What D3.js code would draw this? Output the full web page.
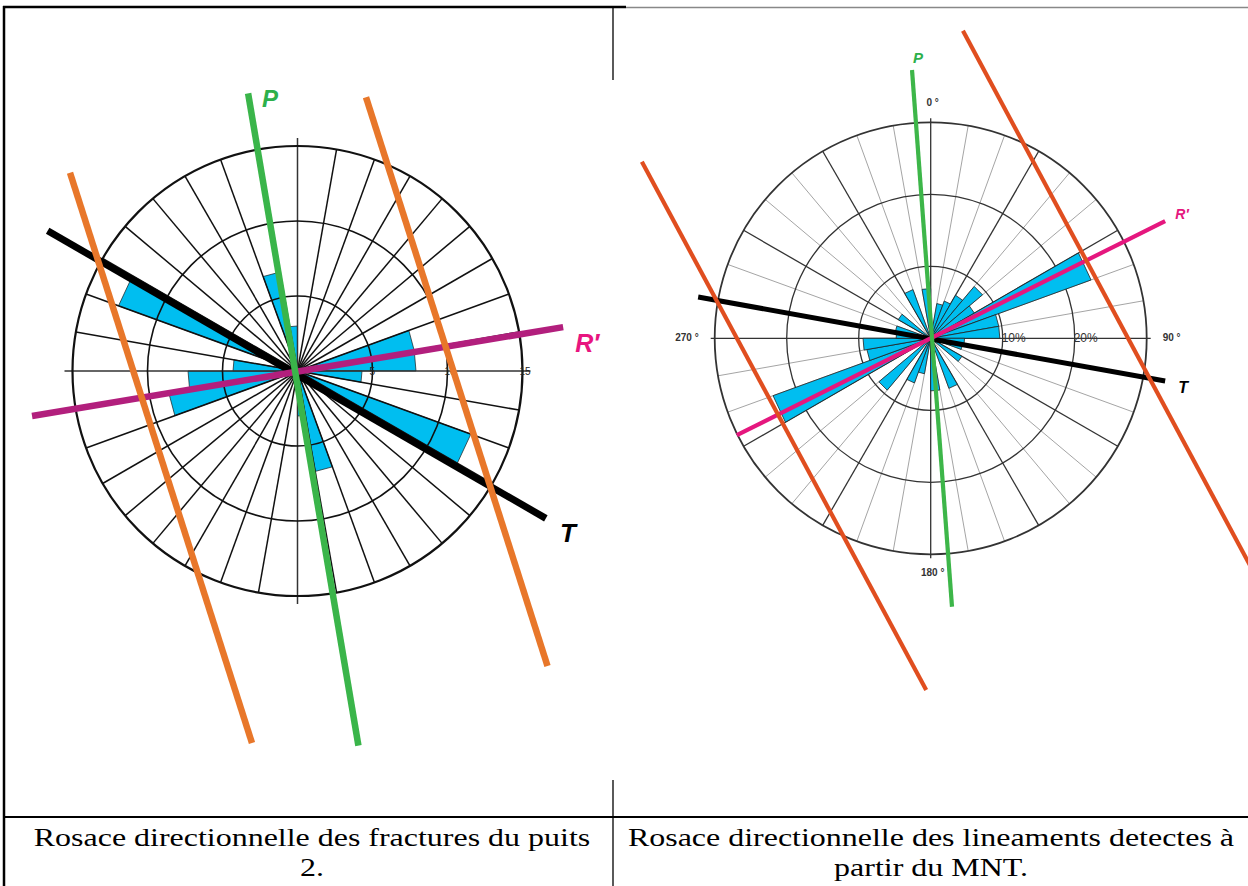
<!DOCTYPE html>
<html><head><meta charset="utf-8">
<script src="https://cdn.jsdelivr.net/npm/d3@7/dist/d3.min.js"></script>
<style>html,body{margin:0;padding:0;background:#fff;}svg{display:block;}</style>
</head><body>
<svg id="chart" width="1248" height="886"></svg>
<script>
// ---------------- DATA ----------------
const binStarts = d3.range(0, 360, 10);           // 10° classes (azimuth, clockwise from N)
// Rose 1 : fractures du puits 2 (count scale 0-15)
const puitsValues = [0,0,0,0,0,0,0,7.9,7.9,4.3,0,12.3,0,0,0,0,6.8,3,
                     0,0,0,0,0,0,0,8.7,7.3,4.3,0,12.7,0,0,0,0,6.7,3];
const puitsRings = [5, 10, 15];
const puitsRingLabels = ["5", "10", "15"];
// Rose 2 : linéaments MNT (% scale 0-30)
const mntValues = [0,4.9,5.5,6.9,9.4,7.0,23.7,9.6,9.6,4.7,4.5,0,5.0,0,0,7.4,0,7.3,
                   0,5.0,6.6,0,9.4,0,23.3,9.0,9.4,4.8,5.0,0,5.2,0,0,7.2,0,6.9];
const mntRings = [10, 20, 30];
const mntRingLabels = ["10%", "20%", ""];
const mntDirLabels = ["0 °", "90 °", "180 °", "270 °"];
const mntDirAngles = [0, 90, 180, 270];

// Structural trend lines: azimuth (deg), perpendicular offset & extent in rose units
const puitsTrendNames = ["T", "R′", "", "", "P"];
const puitsTrendAz    = [120, 80.5, 342.3, 342.3, 350.4];
const puitsTrendOff   = [0.23, 0.04, -10.43, 9.9, -0.16];
const puitsTrendFrom  = [-19.1, -17.95, 17.2, 16.0, 18.8];
const puitsTrendTo    = [19.25, 17.95, -22.7, -23.8, -25.3];

const mntTrendNames = ["T", "R′", "", "", "P"];
const mntTrendAz    = [100.2, 63.43, 331.76, 331.7, 355.74];
const mntTrendOff   = [0.08, 0, 24.15, -23.7, 0.18];
const mntTrendFrom  = [-32.8, -30.1, 35.5, 40.6, 37.35];
const mntTrendTo    = [33.1, 36.4, -49.3, -42.7, -37.4];

const captionLeft  = ["Rosace directionnelle des fractures du puits", "2."];
const captionRight = ["Rosace directionnelle des lineaments detectes à", "partir du MNT."];

// ---------------- DRAW ----------------
const svg = d3.select("#chart");
svg.append("rect").attr("width",1248).attr("height",886).attr("fill","#fff");
const rad = d => d * Math.PI / 180;

function trendPoint(cx, cy, r, az, off, t) {
  const a = rad(az);
  const tp = r(t) - r(0), op = r(off) - r(0);
  return [cx + tp*Math.sin(a) + op*Math.cos(a), cy - tp*Math.cos(a) + op*Math.sin(a)];
}

function petals(g, values, r, fill, stroke, sw) {
  const data = binStarts.map((s,i)=>({s, v: values[i]})).filter(d=>d.v>0);
  g.selectAll("path.petal").data(data).join("path").attr("class","petal")
    .attr("d", d => {
      const p1 = d3.pointRadial(rad(d.s), r(d.v));
      const p2 = d3.pointRadial(rad(d.s+10), r(d.v));
      return `M0,0L${p1[0]},${p1[1]}L${p2[0]},${p2[1]}Z`;
    })
    .attr("fill", fill).attr("stroke", stroke).attr("stroke-width", sw).attr("stroke-linejoin","miter");
}

// ===== Rose 1 =====
{
  const cx = 297.5, cy = 371;
  const r = d3.scaleLinear().domain([0, 15]).range([0, 225]);
  const g = svg.append("g").attr("transform", `translate(${cx},${cy})`);
  petals(g, puitsValues, r, "#00BEF0", "#1a1a1a", 0.7);
  g.selectAll("line.spoke").data(binStarts.filter(a => a % 90 !== 0)).join("line")
    .attr("x1",0).attr("y1",0)
    .attr("x2", a => d3.pointRadial(rad(a), r(15))[0])
    .attr("y2", a => d3.pointRadial(rad(a), r(15))[1])
    .attr("stroke","#111").attr("stroke-width",1.5);
  g.selectAll("line.axis").data([0,90,180,270]).join("line")
    .attr("x1",0).attr("y1",0)
    .attr("x2", a => d3.pointRadial(rad(a), r(15)+8)[0])
    .attr("y2", a => d3.pointRadial(rad(a), r(15)+8)[1])
    .attr("stroke","#333").attr("stroke-width",1.5);
  g.selectAll("circle.ring").data(puitsRings).join("circle")
    .attr("r", d => r(d)).attr("fill","none").attr("stroke","#111")
    .attr("stroke-width", (d,i) => i === puitsRings.length-1 ? 2.2 : 1.6);
  g.selectAll("text.rl").data(puitsRings).join("text")
    .attr("x", d => r(d) - 3).attr("y", 0).attr("dy","0.35em")
    .attr("font-family","Liberation Sans, Arial, sans-serif").attr("font-size",10)
    .attr("fill","#222").text((d,i)=>puitsRingLabels[i]);

  const colors = {"T":"#000", "R′":"#B21F7D", "":"#E8772A", "P":"#3AB54A"};
  [0,1,2,3,4].forEach(i => {
    const a = trendPoint(cx,cy,r,puitsTrendAz[i],puitsTrendOff[i],puitsTrendFrom[i]);
    const b = trendPoint(cx,cy,r,puitsTrendAz[i],puitsTrendOff[i],puitsTrendTo[i]);
    svg.append("line").attr("x1",a[0]).attr("y1",a[1]).attr("x2",b[0]).attr("y2",b[1])
      .attr("stroke", colors[puitsTrendNames[i]]).attr("stroke-width", i===0?7:6.5);
  });
  const lab = (i, end, dx, dy, color, size) => {
    const p = trendPoint(cx,cy,r,puitsTrendAz[i],puitsTrendOff[i], end ? puitsTrendTo[i] : puitsTrendFrom[i]);
    svg.append("text").attr("x",p[0]+dx).attr("y",p[1]+dy).attr("text-anchor","middle")
      .attr("font-family","Liberation Sans, Arial, sans-serif").attr("font-weight","bold")
      .attr("font-style","italic").attr("font-size",size).attr("fill",color).text(puitsTrendNames[i]);
  };
  lab(4, false, 22, 14, "#2DB04B", 24);
  lab(0, true, 22, 24, "#000", 26);
  lab(1, true, 24, 25, "#E8157F", 25);
}

// ===== Rose 2 =====
{
  const cx = 930.7, cy = 338.3;
  const r = d3.scaleLinear().domain([0, 30]).range([0, 216]);
  const g = svg.append("g").attr("transform", `translate(${cx},${cy})`);
  g.selectAll("line.minor").data(binStarts.filter(a => a % 30 !== 0)).join("line")
    .attr("x1",0).attr("y1",0)
    .attr("x2", a => d3.pointRadial(rad(a), r(30))[0])
    .attr("y2", a => d3.pointRadial(rad(a), r(30))[1])
    .attr("stroke","#9a9a9a").attr("stroke-width",0.9);
  g.selectAll("line.major").data(binStarts.filter(a => a % 30 === 0 && a % 90 !== 0)).join("line")
    .attr("x1",0).attr("y1",0)
    .attr("x2", a => d3.pointRadial(rad(a), r(30))[0])
    .attr("y2", a => d3.pointRadial(rad(a), r(30))[1])
    .attr("stroke","#333").attr("stroke-width",1.3);
  g.selectAll("line.axis").data(mntDirAngles).join("line")
    .attr("x1",0).attr("y1",0)
    .attr("x2", a => d3.pointRadial(rad(a), r(30)+4)[0])
    .attr("y2", a => d3.pointRadial(rad(a), r(30)+4)[1])
    .attr("stroke","#333").attr("stroke-width",1.3);
  g.selectAll("circle.ring").data(mntRings).join("circle")
    .attr("r", d => r(d)).attr("fill","none").attr("stroke","#333")
    .attr("stroke-width", (d,i) => i === mntRings.length-1 ? 1.8 : 1.3);
  petals(g, mntValues, r, "#00BEF0", "#222", 0.8);
  g.selectAll("text.rl").data(mntRings).join("text")
    .attr("x", d => r(d) - 1).attr("y", 4)
    .attr("font-family","Liberation Sans, Arial, sans-serif").attr("font-size",12)
    .attr("fill","#333").text((d,i)=>mntRingLabels[i]);
  const dirPos = [[2,-232],[232,3],[2,238],[-232,3]];
  g.selectAll("text.dir").data(mntDirLabels).join("text")
    .attr("x",(d,i)=>dirPos[i][0]).attr("y",(d,i)=>dirPos[i][1])
    .attr("text-anchor",(d,i)=> i===1 ? "start" : i===3 ? "end" : "middle")
    .attr("font-family","Liberation Sans, Arial, sans-serif").attr("font-weight","bold")
    .attr("font-size",10).attr("fill","#333").text(d=>d);

  const colors = {"T":"#000", "R′":"#E5177E", "":"#E04E1F", "P":"#3DB649"};
  [0,1,2,3,4].forEach(i => {
    const a = trendPoint(cx,cy,r,mntTrendAz[i],mntTrendOff[i],mntTrendFrom[i]);
    const b = trendPoint(cx,cy,r,mntTrendAz[i],mntTrendOff[i],mntTrendTo[i]);
    svg.append("line").attr("x1",a[0]).attr("y1",a[1]).attr("x2",b[0]).attr("y2",b[1])
      .attr("stroke", colors[mntTrendNames[i]]).attr("stroke-width", i===0?5:4.2);
  });
  const lab = (i, end, dx, dy, color, size) => {
    const p = trendPoint(cx,cy,r,mntTrendAz[i],mntTrendOff[i], end ? mntTrendTo[i] : mntTrendFrom[i]);
    svg.append("text").attr("x",p[0]+dx).attr("y",p[1]+dy).attr("text-anchor","middle")
      .attr("font-family","Liberation Sans, Arial, sans-serif").attr("font-weight","bold")
      .attr("font-style","italic").attr("font-size",size).attr("fill",color).text(mntTrendNames[i]);
  };
  lab(4, false, 6, -7, "#2DB04B", 15);
  lab(0, true, 18, 12, "#000", 16);
  lab(1, true, 17, -2, "#E5177E", 14);
}

// ===== Table frame & captions =====
const frame = svg.append("g");
frame.append("line").attr("x1",4).attr("y1",6).attr("x2",4).attr("y2",886).attr("stroke","#000").attr("stroke-width",2.5);
frame.append("line").attr("x1",3).attr("y1",7).attr("x2",626).attr("y2",7).attr("stroke","#000").attr("stroke-width",2.5);
frame.append("line").attr("x1",626).attr("y1",7.5).attr("x2",1248).attr("y2",7.5).attr("stroke","#888").attr("stroke-width",1.4);
frame.append("line").attr("x1",613).attr("y1",7).attr("x2",613).attr("y2",80).attr("stroke","#000").attr("stroke-width",1.3);
frame.append("line").attr("x1",613).attr("y1",780).attr("x2",613).attr("y2",886).attr("stroke","#000").attr("stroke-width",1.3);
frame.append("line").attr("x1",4).attr("y1",817).attr("x2",1248).attr("y2",817).attr("stroke","#000").attr("stroke-width",2);

// captions: 26px serif, horizontally widened as in the source document
const capStretch = 1.23;
function caption(lines, cx) {
  lines.forEach((t,i) => {
    svg.append("g").attr("transform", `translate(${cx},${846+30*i}) scale(${capStretch},1)`)
      .append("text").attr("x",0).attr("y",0).attr("text-anchor","middle")
      .attr("font-family","Liberation Serif, 'Times New Roman', serif")
      .attr("font-size",26).attr("fill","#000").text(t);
  });
}
caption(captionLeft, 312);
caption(captionRight, 931);
</script>
</body></html>
